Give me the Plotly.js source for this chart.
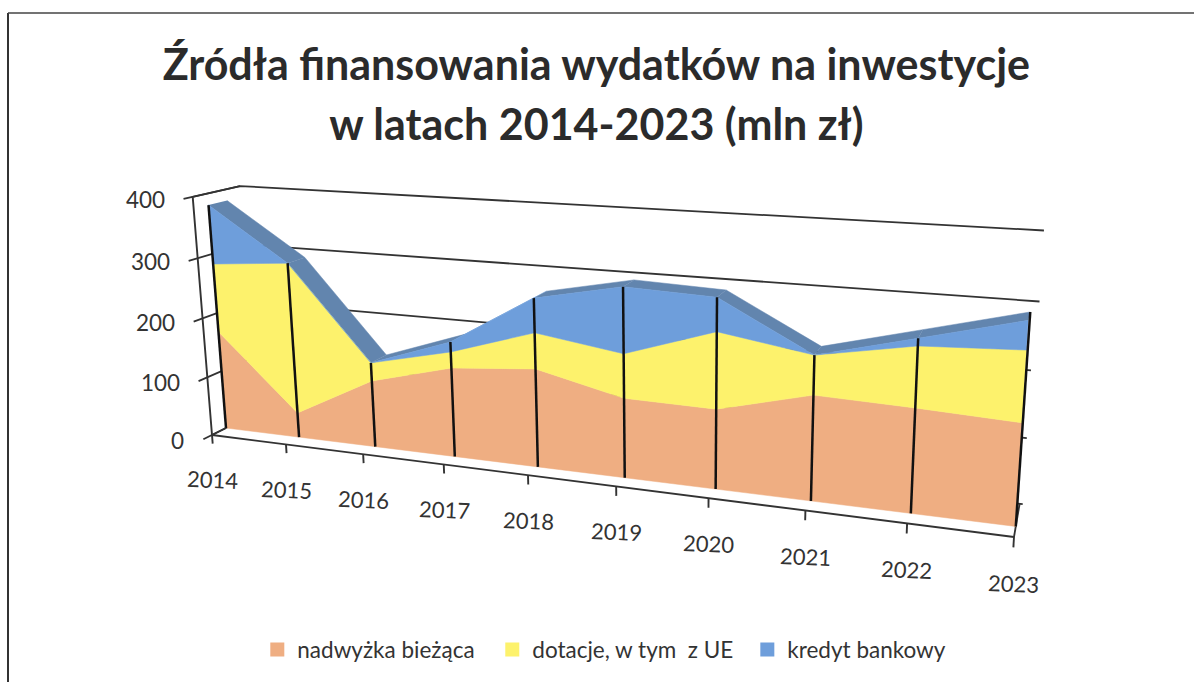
<!DOCTYPE html>
<html><head><meta charset="utf-8">
<script src="https://cdn.plot.ly/plotly-3.0.1.min.js"></script>
<style>html,body{margin:0;padding:0;background:#fff}#c{width:1194px;height:682px}</style>
</head><body><div id="c"></div>
<script>
const years = [2014,2015,2016,2017,2018,2019,2020,2021,2022,2023];
const nadwyzka = [168,42,111,146,158,126,124,160,156,150];
const dotacje = [115,252,30,26,57,69,117,59,89,102];
const kredyt = [98,0,0,16,54,102,51,0,11,41];
const valueTicks = [0,100,200,300,400];
const seriesNames = ['nadwyżka bieżąca','dotacje, w tym  z UE','kredyt bankowy'];
const seriesColors = ['#EFAE82','#FDF26C','#6E9EDB'];
const ridgeDark = '#6285AE', ridgeLight = '#6E9EDB';
const ridgeShades = [ridgeDark,ridgeDark,ridgeDark,ridgeLight,ridgeDark,ridgeDark,ridgeDark,ridgeDark,ridgeDark];

// 3D perspective view of the chart box: u = year index, v = value, w = depth
const FRONT = 1, BACK = 2.3, WALL = 3.29;
function project(u,v,w){
  const W = 1 - 0.0208*u - 0.0001*v + 0.0159*w;
  return [(212 + 68.02*u - 0.0675*v + 17.6*w)/W, (435 + 0.163*u - 0.615*v - 0.19*w)/W];
}
function path(points){ const p = points.map(q=>project(q[0],q[1],q[2])); return {x:p.map(a=>a[0]),y:p.map(a=>a[1])}; }

const cum1 = nadwyzka.slice();
const cum2 = nadwyzka.map((v,i)=>v+dotacje[i]);
const cum3 = cum2.map((v,i)=>v+kredyt[i]);
const idx = years.map((_,i)=>i);
const traces = [];
function line(points,color,width){
  traces.push({type:'scatter',mode:'lines',...path(points),line:{color:color,width:width,simplify:false},showlegend:false,hoverinfo:'skip'});
}
function poly(points,color){
  traces.push({type:'scatter',mode:'lines',...path(points),fill:'toself',fillcolor:color,line:{color:color,width:0.5},showlegend:false,hoverinfo:'skip'});
}
const AX = '#333333';
// back wall gridlines and side-wall lines
valueTicks.forEach(v=>{
  line([[0,v,-0.6],[0,v,WALL],[v>=300?9.07:9.03,v,WALL]],AX,1.8);
});
line([[9,0,0],[9,0,WALL]],AX,1.8);
// ridge (top face of the stack)
idx.slice(0,-1).forEach(i=>{
  poly([[i,cum3[i],FRONT],[i+1,cum3[i+1],FRONT],[i+1,cum3[i+1],BACK],[i,cum3[i],BACK]],ridgeShades[i]);
});
// stacked front faces
const rev = a=>a.slice().reverse();
poly([...idx.map(i=>[i,0,FRONT]),...rev(idx).map(i=>[i,cum1[i],FRONT])],seriesColors[0]);
poly([...idx.map(i=>[i,cum1[i],FRONT]),...rev(idx).map(i=>[i,cum2[i],FRONT])],seriesColors[1]);
poly([...idx.map(i=>[i,cum2[i],FRONT]),...rev(idx).map(i=>[i,cum3[i],FRONT])],seriesColors[2]);
// drop lines
idx.forEach(i=>{
  line([[i,0,FRONT],[i,cum3[i],i===9?BACK:FRONT]],'#111',2.5);
});
// axes
line([[0,0,FRONT],[0,0,0],[9,0,0]],AX,1.9);
line([[0,0,0],[0,400,0],[0,400,WALL]],AX,1.9);
idx.forEach(i=>{ line([[i,0,0],[i,-15,0]],AX,1.9); });
// legend entries: each in its own legend so the unequal spacing can be kept
const legendIds = ['legend','legend2','legend3'];
seriesNames.forEach((n,k)=>{
  traces.push({type:'scatter',mode:'markers',x:[null],y:[null],name:n,legend:legendIds[k],marker:{symbol:'square',size:14,color:seriesColors[k]},hoverinfo:'skip'});
});

const FONT = 'Lato, "Open Sans", sans-serif';
const TXT = '#333333';
const annotations = [];
valueTicks.forEach(v=>{
  const p = project(0,v,-0.6);
  annotations.push({x:p[0]-17,y:p[1]+1,xref:'x',yref:'y',text:String(v),showarrow:false,xanchor:'right',yanchor:'middle',font:{family:FONT,size:22.5,color:TXT}});
});
years.forEach((y,i)=>{
  const p = project(i,-15,0);
  annotations.push({x:p[0],y:p[1]+36,xref:'x',yref:'y',text:String(y),showarrow:false,textangle:2.5,xanchor:'center',yanchor:'middle',font:{family:FONT,size:22,color:TXT}});
});
function legendBox(x){
  return {orientation:'h',x:x,xanchor:'left',y:0.047,yanchor:'middle',font:{family:FONT,size:22.5,color:TXT},itemclick:false,itemdoubleclick:false};
}
const layout = {
  width:1194,height:682,margin:{l:0,r:0,t:0,b:0},paper_bgcolor:'#ffffff',plot_bgcolor:'rgba(0,0,0,0)',
  title:{text:'<span style="font-size:43px"><b>Źródła finansowania wydatków na inwestycje<br>w latach 2014-2023 (mln zł)</b></span>',x:0.4995,xanchor:'center',y:0.883,yanchor:'middle',font:{family:FONT,size:46,color:'#2b2b2b'}},
  xaxis:{range:[0,1194],visible:false,fixedrange:true},
  yaxis:{range:[682,0],visible:false,fixedrange:true},
  showlegend:true,
  legend:legendBox(0.2155),
  legend2:legendBox(0.4123),
  legend3:legendBox(0.6259),
  annotations:annotations,
  shapes:[
    {type:'line',xref:'paper',yref:'paper',x0:8/1194,x1:8/1194,y0:0,y1:1-13/682,line:{color:'#333',width:2}},
    {type:'line',xref:'paper',yref:'paper',x0:8/1194,x1:1,y0:1-13/682,y1:1-13/682,line:{color:'#444',width:1.4}}
  ]
};
Plotly.newPlot('c',traces,layout,{displayModeBar:false,staticPlot:true});
</script></body></html>
